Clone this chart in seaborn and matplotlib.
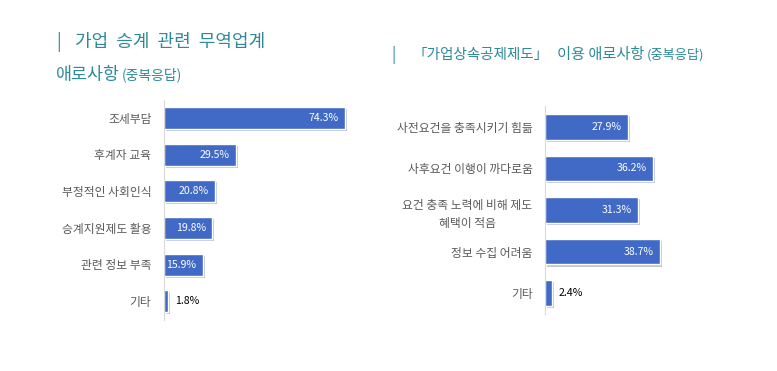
import matplotlib
matplotlib.use("Agg")
import matplotlib.pyplot as plt
import matplotlib.patheffects as pe
import pandas as pd
import seaborn as sns

# data
left_labels = ["조세부담", "후계자 교육", "부정적인 사회인식", "승계지원제도 활용", "관련 정보 부족", "기타"]
left_values = [74.3, 29.5, 20.8, 19.8, 15.9, 1.8]

right_labels = ["사전요건을 충족시키기 힘듦", "사후요건 이행이 까다로움",
                "요건 충족 노력에 비해 제도\n혜택이 적음", "정보 수집 어려움", "기타"]
right_values = [27.9, 36.2, 31.3, 38.7, 2.4]

sns.set_style("white")
plt.rcParams["font.family"] = ["Noto Sans CJK KR", "DejaVu Sans"]

BAR = "#4169C6"
TITLE = "#2E8A9A"
GRAY = "#595959"

fig = plt.figure(figsize=(7.77, 3.71), dpi=100)


def draw(ax, labels, values, xmax, bar_h):
    df = pd.DataFrame({"label": labels, "value": values})
    sns.barplot(data=df, x="value", y="label", orient="h", color=BAR,
                width=bar_h, saturation=1, ax=ax)
    for p in ax.patches:
        p.set_path_effects([pe.SimplePatchShadow(offset=(1.5, -1.5), alpha=0.25), pe.Normal()])
    ax.set_xlim(0, xmax)
    ax.set_xlabel("")
    ax.set_ylabel("")
    ax.set_xticks([])
    for s in ["top", "right", "bottom"]:
        ax.spines[s].set_visible(False)
    ax.spines["left"].set_color("#D9D9D9")
    ax.spines["left"].set_linewidth(0.8)
    ax.tick_params(axis="y", length=0, pad=9, labelsize=8.5, labelcolor=GRAY)
    for t in ax.get_yticklabels():
        t.set_multialignment("center")
        t.set_linespacing(1.5)
    for i, v in enumerate(values):
        txt = f"{v}%"
        if v > 10:
            ax.annotate(txt, (v, i), xytext=(-4.5, 0), textcoords="offset points",
                        ha="right", va="center", color="white", fontsize=7.6)
        else:
            ax.annotate(txt, (v, i), xytext=(5, 0), textcoords="offset points",
                        ha="left", va="center", color="black", fontsize=7.6)


ax1 = fig.add_axes([164 / 777, 51.5 / 371, 195 / 777, 220 / 371])
draw(ax1, left_labels, left_values, 80, 0.6)

ax2 = fig.add_axes([545 / 777, 57 / 371, 134 / 777, 208 / 371])
draw(ax2, right_labels, right_values, 45, 0.62)

# titles
fig.text(56 / 777, 1 - 42 / 371, "|", color=TITLE,
         fontsize=12.5, va="center", ha="left")
fig.text(75 / 777, 1 - 42 / 371, "가업  승계  관련  무역업계", color=TITLE,
         fontsize=13, va="center", ha="left")
fig.text(56 / 777, 1 - 75 / 371, "애로사항", color=TITLE,
         fontsize=12.5, va="center", ha="left")
fig.text(122 / 777, 1 - 75 / 371, "(중복응답)", color=TITLE,
         fontsize=10, va="center", ha="left")

fig.text(391 / 777, 1 - 55 / 371, "|", color=TITLE,
         fontsize=11, va="center", ha="left")
fig.text(413 / 777, 1 - 55 / 371, "「가업상속공제제도」", color=TITLE,
         fontsize=10.5, va="center", ha="left")
fig.text(557 / 777, 1 - 55 / 371, "이용 애로사항", color=TITLE,
         fontsize=11, va="center", ha="left")
fig.text(647 / 777, 1 - 55 / 371, "(중복응답)", color=TITLE,
         fontsize=9.5, va="center", ha="left")

fig.savefig("out.png", dpi=100)
